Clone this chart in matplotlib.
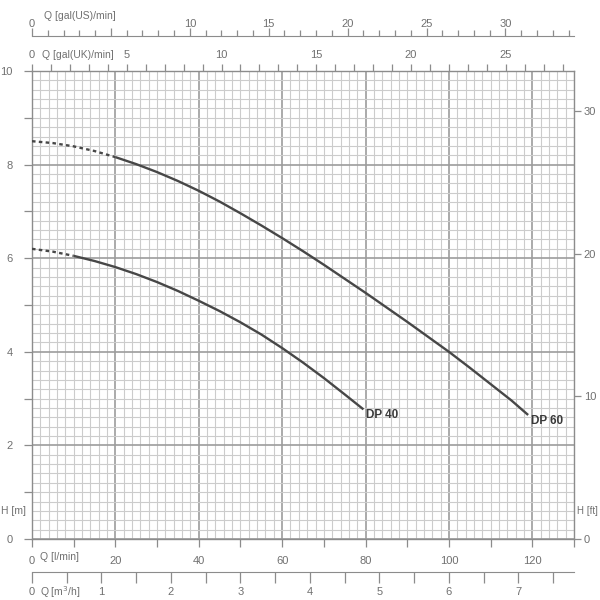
import numpy as np
import matplotlib
matplotlib.use('Agg')
import matplotlib.pyplot as plt
from matplotlib.ticker import MultipleLocator, FuncFormatter

plt.rcParams['font.family'] = ['Liberation Sans Narrow', 'Liberation Sans', 'DejaVu Sans']

# Pump curves (Q in l/min, H in m) ------------
curve_names = ['DP 40', 'DP 60']
q_dp40 = [0, 5, 10, 15, 20, 25, 30, 35, 40, 45, 50, 55, 60, 65, 70, 75, 79.5]
h_dp40 = [6.20, 6.14, 6.05, 5.94, 5.81, 5.66, 5.49, 5.30, 5.09, 4.87, 4.63, 4.37, 4.08, 3.77, 3.44, 3.09, 2.77]
q_dp60 = [0, 5, 10, 15, 20, 25, 30, 35, 40, 45, 50, 55, 60, 65, 70, 75, 80, 85, 90, 95, 100, 105, 110, 115, 119]
h_dp60 = [8.50, 8.46, 8.39, 8.29, 8.16, 8.01, 7.84, 7.65, 7.44, 7.21, 6.96, 6.70, 6.43, 6.15, 5.86, 5.56, 5.26,
          4.95, 4.64, 4.32, 4.00, 3.66, 3.31, 2.96, 2.65]
dashed_until = [10, 20]  # curve drawn dashed below this flow

# Axis ranges and unit conversions ------------
q_max = 130
h_max = 10
lpm_per_usgal = 3.785
lpm_per_ukgal = 4.546
lpm_per_m3h = 1000 / 60
ft_per_m = 3.2808

text_col = '#707070'
axis_col = '#8c8c8c'
curve_col = '#474747'
fs = 8
fs_title = 7.5


def px(x, y):
    # pixel position (from top left) -> figure fraction
    return x / 600, 1 - y / 600


fig = plt.figure(figsize=(6, 6), dpi=100)
ax = fig.add_axes([32 / 600, 61 / 600, 542 / 600, 468 / 600])
ax.set_xlim(0, q_max)
ax.set_ylim(0, h_max)
for s in ax.spines.values():
    s.set_color(axis_col)
    s.set_linewidth(1.0)

# grid: minor every 2 l/min / 0.2 m, major every 20 l/min / 2 m
for i in range(int(q_max / 2) + 1):
    major = i % 10 == 0
    ax.axvline(2 * i, color='#9c9c9c' if major else '#cccccc', lw=1.2 if major else 0.8, zorder=1)
for j in range(int(h_max / 0.2) + 1):
    major = j % 10 == 0
    ax.axhline(0.2 * j, color='#9c9c9c' if major else '#cccccc', lw=1.2 if major else 0.8, zorder=1)

# curves
for name, q, h, d in zip(curve_names, [q_dp40, q_dp60], [h_dp40, h_dp60], dashed_until):
    q = np.array(q)
    h = np.array(h)
    ax.plot(q[q <= d], h[q <= d], color=curve_col, lw=1.7, ls=(0, (1.5, 1.4)), zorder=3)
    ax.plot(q[q >= d], h[q >= d], color=curve_col, lw=1.7, zorder=3, solid_capstyle='butt',
            solid_joinstyle='round')
    ax.text(q[-1] + 0.6, h[-1] - 0.12, name, fontsize=8.5, fontweight='bold', color='#3a3a3a',
            ha='left', va='center', zorder=4)

# bottom Q [l/min] and left H [m]
ax.xaxis.set_major_locator(MultipleLocator(10))
ax.xaxis.set_major_formatter(FuncFormatter(lambda v, p: '%d' % v if v % 20 == 0 and v < q_max else ''))
ax.yaxis.set_major_locator(MultipleLocator(1))
ax.yaxis.set_major_formatter(FuncFormatter(lambda v, p: '%d' % v if v % 2 == 0 else ''))
ax.tick_params(axis='both', direction='out', length=6, width=0.9, color=axis_col,
               labelcolor=text_col, labelsize=fs)
ax.tick_params(axis='x', pad=6)
ax.tick_params(axis='y', pad=8)

# right H [ft]
ax_ft = ax.secondary_yaxis('right', functions=(lambda m: m * ft_per_m, lambda f: f / ft_per_m))
ax_ft.set_yticks([0, 10, 20, 30])
ax_ft.tick_params(direction='out', length=5, width=0.9, color=axis_col, labelcolor=text_col,
                  labelsize=fs, pad=2)
ax_ft.spines['right'].set_visible(False)

# top Q [gal(UK)/min] on the plot frame
ax_uk = ax.secondary_xaxis('top', functions=(lambda q: q / lpm_per_ukgal, lambda g: g * lpm_per_ukgal))
ax_uk.xaxis.set_major_locator(MultipleLocator(5))
ax_uk.xaxis.set_minor_locator(MultipleLocator(1))
ax_uk.tick_params(which='both', direction='out', length=5, width=0.9, color=axis_col,
                  labelcolor=text_col, labelsize=fs, pad=3)
ax_uk.spines['top'].set_visible(False)

# upper Q [gal(US)/min], line 35 px above the frame
ax_us = ax.secondary_xaxis(503 / 468, functions=(lambda q: q / lpm_per_usgal, lambda g: g * lpm_per_usgal))
ax_us.xaxis.set_major_locator(MultipleLocator(5))
ax_us.xaxis.set_minor_locator(MultipleLocator(1))
ax_us.xaxis.set_major_formatter(FuncFormatter(lambda v, p: '' if round(v) == 5 else '%d' % v))
ax_us.tick_params(which='major', direction='out', length=6, width=0.9, color=axis_col,
                  labelcolor=text_col, labelsize=fs, pad=-1)
ax_us.tick_params(which='minor', direction='out', length=4, width=0.9, color=axis_col)
ax_us.spines['top'].set_color(axis_col)

# lower Q [m3/h]
ax_m3 = ax.secondary_xaxis(-33 / 468, functions=(lambda q: q / lpm_per_m3h, lambda c: c * lpm_per_m3h))
ax_m3.xaxis.set_major_locator(MultipleLocator(0.5))
ax_m3.xaxis.set_major_formatter(FuncFormatter(lambda v, p: '%d' % v if abs(v - round(v)) < 1e-6 else ''))
ax_m3.tick_params(direction='out', length=8, width=0.9, color=axis_col, labelcolor=text_col,
                  labelsize=fs, pad=3)
ax_m3.spines['bottom'].set_color(axis_col)

# axis titles
fig.text(*px(44, 16), 'Q [gal(US)/min]', fontsize=fs_title, color=text_col, va='center')
fig.text(*px(42, 55), 'Q [gal(UK)/min]', fontsize=fs_title, color=text_col, va='center')
fig.text(*px(40, 557), 'Q [l/min]', fontsize=fs_title, color=text_col, va='center')
fig.text(*px(40, 592), 'Q [m$^3$/h]', fontsize=fs_title, color=text_col, va='center')
fig.text(*px(1, 511), 'H [m]', fontsize=fs_title, color=text_col, va='center')
fig.text(*px(598, 511), 'H [ft]', fontsize=7, color=text_col, va='center', ha='right')

fig.savefig('out.png', dpi=100, facecolor='white')
